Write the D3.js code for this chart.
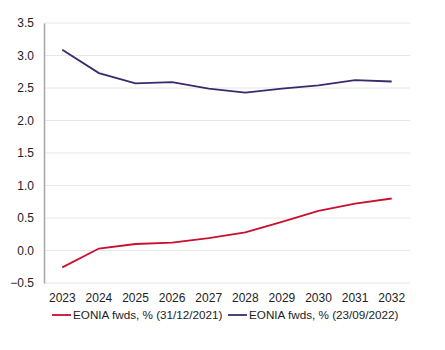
<!DOCTYPE html>
<html>
<head>
<meta charset="utf-8">
<script src="https://cdn.jsdelivr.net/npm/d3@7"></script>
<style>
  body { margin: 0; background: #fff; }
  svg text { font-family: "Liberation Sans", Arial, sans-serif; fill: #222; }
</style>
</head>
<body>
<svg id="chart" width="445" height="350"></svg>
<script>
// chart data
const years = ["2023", "2024", "2025", "2026", "2027", "2028", "2029", "2030", "2031", "2032"];
const fwds2021 = [-0.26, 0.03, 0.10, 0.12, 0.19, 0.28, 0.44, 0.61, 0.72, 0.80];
const fwds2022 = [3.09, 2.73, 2.57, 2.59, 2.49, 2.43, 2.49, 2.54, 2.62, 2.60];
const yTicks = [-0.5, 0, 0.5, 1, 1.5, 2, 2.5, 3, 3.5];
const seriesNames = ["EONIA fwds, % (31/12/2021)", "EONIA fwds, % (23/09/2022)"];
const colors = ["#c8102e", "#3b2a6b"];

const svg = d3.select("#chart");
const margin = { top: 23, left: 44, right: 35, bottom: 67 };
const width = 445 - margin.left - margin.right;
const height = 350 - margin.top - margin.bottom;

const g = svg.append("g").attr("transform", `translate(${margin.left},${margin.top})`);

const x = d3.scaleBand().domain(years).range([0, width]);
const y = d3.scaleLinear().domain([-0.5, 3.5]).range([height, 0]);

// gridlines
g.selectAll(".grid")
  .data(yTicks)
  .join("line")
    .attr("x1", 0)
    .attr("x2", width)
    .attr("y1", d => y(d))
    .attr("y2", d => y(d))
    .attr("stroke", "#e6e6e6")
    .attr("stroke-width", 1);

// y axis
const yAxis = d3.axisLeft(y).tickValues(yTicks).tickSize(0).tickPadding(10)
  .tickFormat(d3.format(".1f"));
const yAxisG = g.append("g").call(yAxis);
yAxisG.select(".domain").attr("stroke", "#a6a6a6").attr("stroke-width", 1.5);
yAxisG.selectAll("text").attr("font-size", 12).style("fill", "#222");

// x axis
const xAxis = d3.axisBottom(x).tickSize(0).tickPadding(10);
const xAxisG = g.append("g").attr("transform", `translate(0,${height})`).call(xAxis);
xAxisG.select(".domain").remove();
xAxisG.selectAll("text").attr("font-size", 12).style("fill", "#222");

// lines
const line = d3.line()
  .x((d, i) => x(years[i]) + x.bandwidth() / 2)
  .y(d => y(d));

[fwds2021, fwds2022].forEach((s, i) => {
  g.append("path")
    .datum(s)
    .attr("fill", "none")
    .attr("stroke", colors[i])
    .attr("stroke-width", 1.8)
    .attr("d", line);
});

// legend
const legendX = [52, 228];
const legend = svg.append("g").attr("transform", "translate(0,315)");
seriesNames.forEach((name, i) => {
  legend.append("line")
    .attr("x1", legendX[i])
    .attr("x2", legendX[i] + 19)
    .attr("y1", 0)
    .attr("y2", 0)
    .attr("stroke", colors[i])
    .attr("stroke-width", 1.8);
  legend.append("text")
    .attr("x", legendX[i] + 21)
    .attr("y", 4)
    .attr("font-size", 11.7)
    .text(name);
});
</script>
</body>
</html>
